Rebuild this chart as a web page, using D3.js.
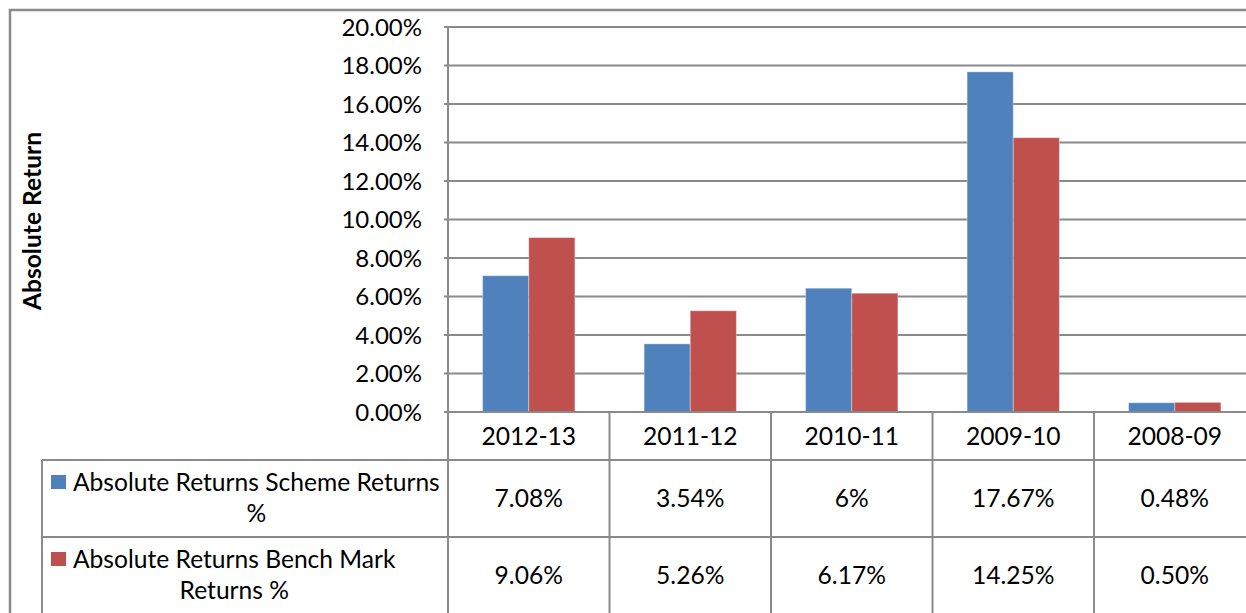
<!DOCTYPE html>
<html>
<head>
<meta charset="utf-8">
<script src="https://cdn.jsdelivr.net/npm/d3@7/dist/d3.min.js"></script>
<style>
  html, body { margin: 0; padding: 0; background: #fff; }
  svg { display: block; }
  text { font-family: Lato, "Open Sans", sans-serif; fill: #000; }
</style>
</head>
<body>
<div id="chart"></div>
<script>
// data
var categories = ["2012-13", "2011-12", "2010-11", "2009-10", "2008-09"];
var seriesNames = [
    ["Absolute Returns Scheme Returns", "%"],
    ["Absolute Returns Bench Mark", "Returns %"]
];
var schemeValues = [7.08, 3.54, 6.43, 17.67, 0.48];
var benchValues = [9.06, 5.26, 6.17, 14.25, 0.50];
var schemeLabels = ["7.08%", "3.54%", "6%", "17.67%", "0.48%"];
var benchLabels = ["9.06%", "5.26%", "6.17%", "14.25%", "0.50%"];
var yTicks = [0, 2, 4, 6, 8, 10, 12, 14, 16, 18, 20];
var colors = ["#4F81BD", "#C0504D"];

(function () {
    "use strict";

    var width = 1246, height = 613;
    var gridColor = "#8a8a8a";
    var fontSize = 24;
    var tableFont = 24.6;

    var plot = { left: 448, right: 1255.5, top: 27, bottom: 412 };
    var rowTops = [412, 460, 537, 614];  // header, series 1, series 2
    var tableLeft = 42;

    var svg = d3.select("#chart").append("svg")
        .attr("width", width)
        .attr("height", height);

    var x = d3.scaleBand()
        .domain(categories)
        .range([plot.left, plot.right]);

    // two bars per category, gap width 150%
    var xInner = d3.scaleBand()
        .domain([0, 1])
        .range([0, x.bandwidth()])
        .paddingOuter(0.75);

    var y = d3.scaleLinear()
        .domain([0, 20])
        .range([plot.bottom, plot.top]);

    // outer chart border (runs off the right and bottom)
    svg.append("rect")
        .attr("x", 10).attr("y", 10)
        .attr("width", width + 20).attr("height", height + 20)
        .attr("fill", "none")
        .attr("stroke", gridColor)
        .attr("stroke-width", 2.5);

    // gridlines
    svg.append("g").selectAll("line")
        .data(yTicks)
        .join("line")
        .attr("x1", plot.left - 4)
        .attr("x2", plot.right)
        .attr("y1", function (d) { return y(d); })
        .attr("y2", function (d) { return y(d); })
        .attr("stroke", gridColor)
        .attr("stroke-width", 2);

    // y tick labels
    svg.append("g").selectAll("text")
        .data(yTicks)
        .join("text")
        .attr("x", 422)
        .attr("y", function (d) { return y(d); })
        .attr("dy", "0.36em")
        .attr("text-anchor", "end")
        .attr("font-size", fontSize)
        .text(function (d) { return d.toFixed(2) + "%"; });

    // bars
    var series = [schemeValues, benchValues];
    var barG = svg.append("g");
    series.forEach(function (vals, si) {
        barG.selectAll(".s" + si)
            .data(vals)
            .join("rect")
            .attr("class", "s" + si)
            .attr("x", function (d, i) { return x(categories[i]) + xInner(si); })
            .attr("width", xInner.bandwidth())
            .attr("y", function (d) { return y(d); })
            .attr("height", function (d) { return y(0) - y(d); })
            .attr("fill", colors[si])
            .attr("stroke", "rgba(255,255,255,0.35)")
            .attr("stroke-width", 1);
    });

    // axis baseline redrawn over bars
    svg.append("line")
        .attr("x1", plot.left).attr("x2", plot.right)
        .attr("y1", y(0)).attr("y2", y(0))
        .attr("stroke", gridColor).attr("stroke-width", 2);

    // data table grid
    var tg = svg.append("g")
        .attr("stroke", gridColor)
        .attr("stroke-width", 2);

    tg.append("line")
        .attr("x1", plot.left).attr("x2", plot.left)
        .attr("y1", plot.top).attr("y2", height);

    tg.selectAll(".vcat")
        .data(categories.slice(1))
        .join("line")
        .attr("class", "vcat")
        .attr("x1", function (d) { return x(d); })
        .attr("x2", function (d) { return x(d); })
        .attr("y1", rowTops[0]).attr("y2", height);

    tg.append("line")
        .attr("x1", tableLeft).attr("x2", tableLeft)
        .attr("y1", rowTops[1]).attr("y2", height);

    tg.selectAll(".hrow")
        .data([rowTops[1], rowTops[2]])
        .join("line")
        .attr("class", "hrow")
        .attr("x1", tableLeft).attr("x2", plot.right)
        .attr("y1", function (d) { return d; })
        .attr("y2", function (d) { return d; });

    // category labels
    svg.append("g").selectAll("text")
        .data(categories)
        .join("text")
        .attr("x", function (d) { return x(d) + x.bandwidth() / 2; })
        .attr("y", (rowTops[0] + rowTops[1]) / 2)
        .attr("dy", "0.36em")
        .attr("text-anchor", "middle")
        .attr("font-size", tableFont)
        .text(function (d) { return d; });

    // value rows
    [schemeLabels, benchLabels].forEach(function (labels, si) {
        var cy = (rowTops[si + 1] + rowTops[si + 2]) / 2;
        svg.append("g").selectAll("text")
            .data(labels)
            .join("text")
            .attr("x", function (d, i) { return x(categories[i]) + x.bandwidth() / 2; })
            .attr("y", cy)
            .attr("dy", "0.36em")
            .attr("text-anchor", "middle")
            .attr("font-size", tableFont)
            .text(function (d) { return d; });
    });

    // legend keys in the table
    seriesNames.forEach(function (lines, si) {
        var top = rowTops[si + 1];
        var g = svg.append("g");
        g.append("rect")
            .attr("x", 51).attr("y", top + 15)
            .attr("width", 15).attr("height", 14)
            .attr("fill", colors[si]);

        var texts = g.selectAll("text")
            .data(lines)
            .join("text")
            .attr("y", function (d, i) { return top + 22 + i * 31.5; })
            .attr("dy", "0.36em")
            .attr("text-anchor", "middle")
            .attr("font-size", tableFont)
            .text(function (d) { return d; });

        var maxW = d3.max(texts.nodes(), function (n) { return n.getComputedTextLength(); });
        texts.attr("x", 73 + maxW / 2);
    });

    // y axis title
    svg.append("text")
        .attr("transform", "translate(32,221) rotate(-90)")
        .attr("dy", "0.36em")
        .attr("text-anchor", "middle")
        .attr("font-size", 24.6)
        .attr("font-weight", "bold")
        .text("Absolute Return");
})();
</script>
</body>
</html>
